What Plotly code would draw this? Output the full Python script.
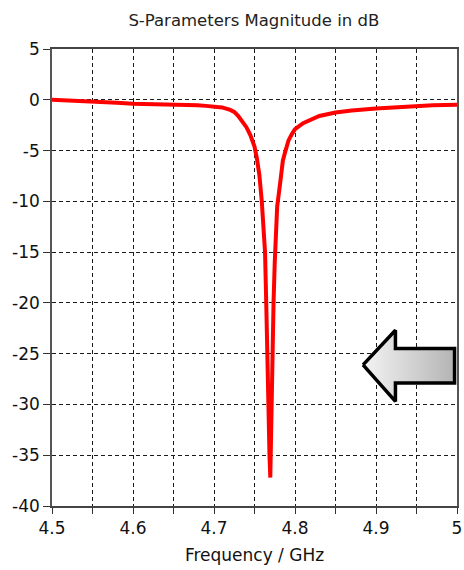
import plotly.graph_objects as go

# ---- data ----
freq_ghz = [4.50, 4.52, 4.53, 4.55, 4.57, 4.58, 4.60, 4.62, 4.64, 4.66, 4.68,
            4.69, 4.70, 4.71, 4.72, 4.725, 4.73, 4.735, 4.74, 4.745, 4.75,
            4.753, 4.756, 4.759, 4.761, 4.763, 4.7645, 4.7655, 4.766, 4.7675,
            4.7685, 4.7695, 4.7705, 4.7715, 4.7725, 4.7735, 4.775, 4.776,
            4.778, 4.782, 4.785, 4.788, 4.792, 4.796, 4.800, 4.810, 4.820,
            4.830, 4.850, 4.870, 4.900, 4.930, 4.950, 4.970, 5.000]
s11_db = [0.0, -0.05, -0.15, -0.2, -0.25, -0.3, -0.4, -0.42, -0.45, -0.5, -0.55,
          -0.6, -0.65, -0.75, -1.0, -1.2, -1.6, -2.1, -2.7, -3.5, -4.6,
          -5.8, -7.4, -10.0, -12.5, -15.0, -20.0, -25.0, -27.5, -30.0,
          -35.0, -37.2, -31.0, -28.0, -25.0, -20.0, -16.0, -13.0,
          -10.5, -8.0, -6.0, -5.1, -4.0, -3.4, -2.9, -2.3, -1.9,
          -1.6, -1.25, -1.05, -0.85, -0.7, -0.62, -0.55, -0.5]

x_tick_vals = [4.5, 4.6, 4.7, 4.8, 4.9, 5.0]
x_tick_text = ["4.5", "4.6", "4.7", "4.8", "4.9", "5"]
y_tick_vals = [5, 0, -5, -10, -15, -20, -25, -30, -35, -40]
y_tick_text = ["5", "0", "-5", "-10", "-15", "-20", "-25", "-30", "-35", "-40"]

title_text = "S-Parameters Magnitude in dB"
x_title = "Frequency / GHz"

# decorative arrow outline (data coordinates)
arrow_x = [4.884, 4.924, 4.924, 4.997, 4.997, 4.924, 4.924, 4.884]
arrow_y = [-26.1, -22.7, -24.5, -24.5, -27.9, -27.9, -29.7, -26.1]

FONT = "DejaVu Sans"

fig = go.Figure()
fig.add_trace(go.Scatter(
    x=freq_ghz, y=s11_db, mode="lines",
    line=dict(color="#ff0000", width=4),
    showlegend=False, hoverinfo="skip",
))
fig.add_trace(go.Scatter(
    x=arrow_x, y=arrow_y, mode="lines", fill="toself",
    fillgradient=dict(type="horizontal",
                      colorscale=[[0, "#f4f4f4"], [1, "#b4b4b4"]]),
    line=dict(color="#000000", width=3.5),
    showlegend=False, hoverinfo="skip",
))

fig.update_layout(
    width=464, height=570,
    margin=dict(l=52, r=7, t=49, b=64, autoexpand=False),
    paper_bgcolor="white", plot_bgcolor="white",
    font=dict(family=FONT, size=17, color="#111111"),
    title=dict(text=title_text, x=0.547, xanchor="center", y=0.965,
               yanchor="middle", font=dict(family=FONT, size=16.5, color="#222222")),
)
grid_common = dict(gridcolor="#1a1a1a", gridwidth=1, griddash="4px,3px")
fig.update_xaxes(
    range=[4.5, 5.0], tickvals=x_tick_vals, ticktext=x_tick_text,
    ticks="outside", ticklen=6, tickcolor="#333333", tickwidth=1.2,
    showline=True, linecolor="#444444", linewidth=1.6, mirror=True,
    showgrid=True, zeroline=False, automargin=False,
    minor=dict(dtick=0.05, tick0=4.5, ticks="outside", ticklen=6,
               tickcolor="#333333", showgrid=True, gridcolor="#1a1a1a",
               griddash="4px,3px", gridwidth=1),
    title=dict(text=x_title, standoff=12, font=dict(family=FONT, size=17)),
    **grid_common,
)
fig.update_yaxes(
    range=[-40, 5], tickvals=y_tick_vals, ticktext=y_tick_text,
    ticks="outside", ticklen=7, tickcolor="#333333", tickwidth=1.2,
    showline=True, linecolor="#555555", linewidth=1.6, mirror=True,
    showgrid=True, zeroline=False, automargin=False,
    **grid_common,
)

fig.write_html("out.html")
